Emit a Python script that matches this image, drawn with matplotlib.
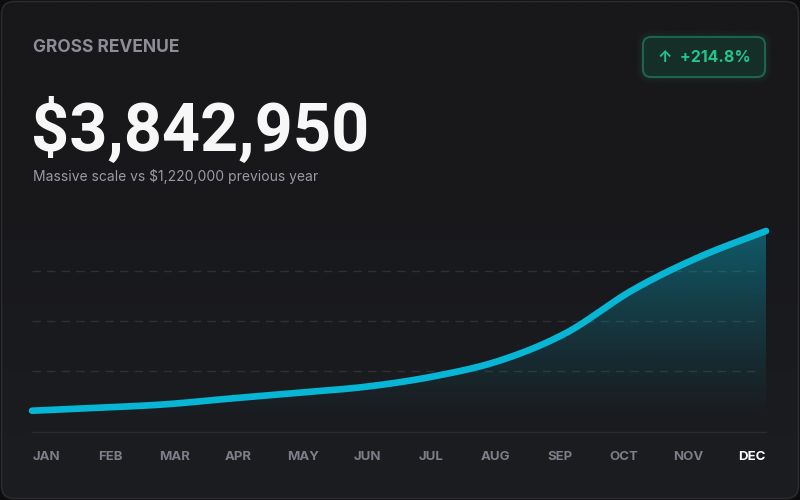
import numpy as np
import matplotlib
matplotlib.use("Agg")
import matplotlib.pyplot as plt
from matplotlib.patches import FancyBboxPatch
from matplotlib.colors import to_rgb

# ---------------- data ----------------
months = ["JAN", "FEB", "MAR", "APR", "MAY", "JUN",
          "JUL", "AUG", "SEP", "OCT", "NOV", "DEC"]
revenue_k = [86, 98, 112, 136, 159, 183, 224, 288, 400, 574, 708, 813]  # thousands $
title_text = "GROSS REVENUE"
total_text = "$3,842,950"
subtitle_text = "Massive scale vs $1,220,000 previous year"
badge_text = "\u2191  +214.8%"

# ---------------- style ----------------
OUTER = "#0d0d0f"
CARD_TOP = "#18181b"
CARD_BOT = "#1b1d21"
CARD_EDGE = "#2a2a2f"
CYAN = "#06b6d4"
GRID = "#2f3034"
MONTH_C = "#7e7e89"
GREEN = "#22c48b"

W, H = 800, 500
fig = plt.figure(figsize=(8, 5), dpi=100, facecolor=OUTER)

# background axes in pixel units
bg = fig.add_axes([0, 0, 1, 1])
bg.set_xlim(0, W)
bg.set_ylim(H, 0)
bg.axis("off")

card = FancyBboxPatch((1.5, 1.5), W - 3, H - 3,
                      boxstyle="round,pad=0,rounding_size=13",
                      facecolor="none", edgecolor=CARD_EDGE, linewidth=1.2, zorder=3)
bg.add_patch(card)
c1 = np.array(to_rgb(CARD_TOP))
c2 = np.array(to_rgb(CARD_BOT))
t = np.linspace(0, 1, 256)[:, None]
t = np.clip((t - 0.35) / 0.65, 0, 1)
grad = (c1[None, :] * (1 - t) + c2[None, :] * t)[:, None, :]
im = bg.imshow(grad, extent=[0, W, H, 0], aspect="auto", zorder=1, interpolation="bilinear")
im.set_clip_path(card)

# header texts
bg.text(33, 47, title_text, fontsize=12.5, fontweight="bold", color="#8d8d97",
        family=["Inter", "DejaVu Sans"], va="center", ha="left", zorder=5)
bg.text(31, 150, total_text, fontsize=48, fontweight="bold", color="#f7f7f8",
        family=["Roboto", "DejaVu Sans"], va="baseline", ha="left", zorder=5)
bg.text(33, 181, subtitle_text, fontsize=10, color="#9a9aa4",
        family=["Inter", "DejaVu Sans"], va="baseline", ha="left", zorder=5)

# badge with glow
bx, by, bw, bh = 643, 37, 122, 40
for i, a in enumerate([0.025, 0.035, 0.05]):
    g = 6 - 2 * i
    bg.add_patch(FancyBboxPatch((bx - g, by - g), bw + 2 * g, bh + 2 * g,
                                boxstyle=f"round,pad=0,rounding_size={8 + g}",
                                facecolor=GREEN, alpha=a, edgecolor="none", zorder=3))
bg.add_patch(FancyBboxPatch((bx, by), bw, bh, boxstyle="round,pad=0,rounding_size=8",
                            facecolor="#152e28", edgecolor="#1f6a4e", linewidth=1.3, zorder=4))
bg.text(bx + bw / 2, by + bh / 2 + 1, badge_text, fontsize=11.5, fontweight="bold",
        color=GREEN, family=["Inter", "DejaVu Sans"], ha="center", va="center", zorder=5)

# ---------------- chart axes ----------------
x0_px, x1_px = 32, 766
top_px, bot_px = 221, 421
ax = fig.add_axes([x0_px / W, (H - bot_px) / H, (x1_px - x0_px) / W, (bot_px - top_px) / H])
ax.set_facecolor("none")
x = np.arange(len(months), dtype=float)
y = np.array(revenue_k, dtype=float)
ymin, ymax = 44.5, 853.5
for s in ax.spines.values():
    s.set_visible(False)
ax.tick_params(axis="y", left=False, labelleft=False)


def catmull_rom(xs, ys, steps=24):
    """Smooth rendering path through the data points (uniform Catmull-Rom)."""
    px = np.concatenate([[2 * xs[0] - xs[1]], xs, [2 * xs[-1] - xs[-2]]])
    py = np.concatenate([[2 * ys[0] - ys[1]], ys, [2 * ys[-1] - ys[-2]]])
    ox, oy = [], []
    for i in range(1, len(px) - 2):
        m1x = 0.5 * (px[i + 1] - px[i - 1]); m1y = 0.5 * (py[i + 1] - py[i - 1])
        m2x = 0.5 * (px[i + 2] - px[i]); m2y = 0.5 * (py[i + 2] - py[i])
        s = np.linspace(0, 1, steps, endpoint=False)
        h00 = 2 * s**3 - 3 * s**2 + 1; h10 = s**3 - 2 * s**2 + s
        h01 = -2 * s**3 + 3 * s**2; h11 = s**3 - s**2
        ox.append(h00 * px[i] + h10 * m1x + h01 * px[i + 1] + h11 * m2x)
        oy.append(h00 * py[i] + h10 * m1y + h01 * py[i + 1] + h11 * m2y)
    ox.append([xs[-1]]); oy.append([ys[-1]])
    return np.concatenate(ox), np.concatenate(oy)


sx, sy = catmull_rom(x, y)

# dashed guide lines at quarter heights
for f in (0.25, 0.5, 0.75):
    ax.plot([0, 0.99], [f, f], transform=ax.transAxes, color=GRID, lw=1,
            dashes=(6, 4.5), zorder=1)
# baseline
ax.plot([0, 1], [-0.055, -0.055], transform=ax.transAxes, color="#2a2b30", lw=1,
        clip_on=False, zorder=1)

# gradient area fill
poly = ax.fill_between(sx, sy, ymin, facecolor="none", edgecolor="none")
path = poly.get_paths()[0]
cy = np.array(to_rgb(CYAN))
n = 256
alpha = np.linspace(0, 1, n) ** 1.2 * 0.42
rgba = np.zeros((n, 1, 4))
rgba[:, 0, :3] = cy
rgba[:, 0, 3] = alpha
gim = ax.imshow(rgba, extent=[0, len(months) - 1, ymin, y.max()], origin="lower",
                aspect="auto", zorder=2, interpolation="bilinear")
gim.set_clip_path(path, transform=ax.transData)
ax.set_xlim(0, len(months) - 1)
ax.set_ylim(ymin, ymax)

# line
ax.plot(sx, sy, color=CYAN, lw=4.8, solid_capstyle="round",
        solid_joinstyle="round", clip_on=False, zorder=4)

# month labels (spread edge to edge)
step = (x1_px - x0_px) / 11
tick_pos = np.linspace((46 - x0_px) / step, (752 - x0_px) / step, 12)
ax.set_xticks(tick_pos)
ax.set_xticklabels(months, fontsize=9.5, fontweight="bold", color=MONTH_C,
                   family=["Inter", "DejaVu Sans"])
ax.tick_params(axis="x", length=0, pad=21.5)
ax.get_xticklabels()[-1].set_color("#ffffff")

fig.savefig("out.png", dpi=100, facecolor=OUTER)
